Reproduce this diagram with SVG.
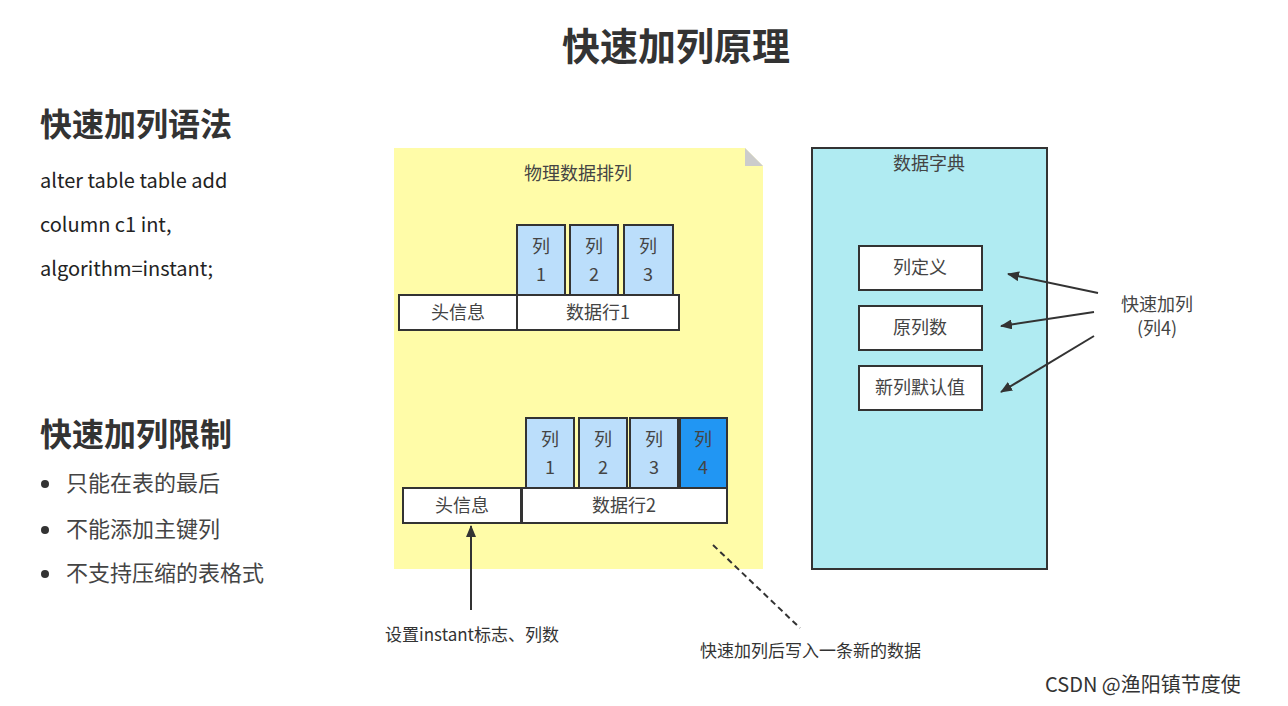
<svg xmlns="http://www.w3.org/2000/svg" width="1288" height="706" viewBox="0 0 1288 706">
<style>
text{font-family:"Noto Sans CJK SC","Noto Sans",sans-serif;fill:#333}
.b{stroke:#333;stroke-width:2}
.c{fill:#bbdefb}
.t{font-size:18px;text-anchor:middle;fill:#444}
.l{font-size:20px;fill:#222}
.r{font-size:22px;fill:#444}
</style>
<defs><marker id="a" markerWidth="12" markerHeight="10" refX="11" refY="5" orient="auto" markerUnits="userSpaceOnUse"><path d="M0,0 L12,5 L0,10 Z" fill="#333"/></marker></defs>
<rect width="1288" height="706" fill="#fff"/>
<text x="676" y="60" font-size="38" font-weight="bold" text-anchor="middle" fill="#333">快速加列原理</text>
<text x="40" y="136" font-size="32" font-weight="bold">快速加列语法</text>
<text x="40" y="188" class="l">alter table table add</text>
<text x="40" y="232" class="l">column c1 int,</text>
<text x="40" y="276" class="l">algorithm=instant;</text>
<text x="40" y="446" font-size="32" font-weight="bold">快速加列限制</text>
<g fill="#333"><circle cx="45" cy="484" r="4"/><circle cx="45" cy="530" r="4"/><circle cx="45" cy="574" r="4"/></g>
<text x="66" y="491" class="r">只能在表的最后</text>
<text x="66" y="537" class="r">不能添加主键列</text>
<text x="66" y="581" class="r">不支持压缩的表格式</text>
<g id="note"><path d="M394,148 H745 L763,166 V569 H394 Z" fill="#fffca8"/><path d="M745,148 L763,166 H745 Z" fill="#ccc"/>
<text x="578" y="180" class="t">物理数据排列</text></g>
<g id="row1">
<rect x="517" y="225" width="48" height="70" class="b c"/><rect x="570" y="225" width="48" height="70" class="b c"/><rect x="624" y="225" width="49" height="70" class="b c"/>
<text x="541" y="253" class="t">列</text><text x="541" y="281" class="t">1</text>
<text x="594" y="253" class="t">列</text><text x="594" y="281" class="t">2</text>
<text x="648" y="253" class="t">列</text><text x="648" y="281" class="t">3</text>
<rect x="399" y="295" width="118" height="35" class="b" fill="#fff"/><rect x="517" y="295" width="162" height="35" class="b" fill="#fff"/>
<text x="458" y="319" class="t">头信息</text><text x="598" y="319" class="t">数据行1</text></g>
<g id="row2">
<rect x="526" y="418" width="48" height="70" class="b c"/><rect x="579" y="418" width="48" height="70" class="b c"/><rect x="630" y="418" width="48" height="70" class="b c"/><rect x="680" y="418" width="47" height="70" class="b" fill="#2196f3"/>
<text x="550" y="446" class="t">列</text><text x="550" y="474" class="t">1</text>
<text x="603" y="446" class="t">列</text><text x="603" y="474" class="t">2</text>
<text x="654" y="446" class="t">列</text><text x="654" y="474" class="t">3</text>
<text x="703" y="446" class="t">列</text><text x="703" y="474" class="t">4</text>
<rect x="403" y="488" width="118" height="35" class="b" fill="#fff"/><rect x="522" y="488" width="205" height="35" class="b" fill="#fff"/>
<text x="462" y="512" class="t">头信息</text><text x="624" y="512" class="t">数据行2</text></g>
<g id="dict"><rect x="812" y="148" width="235" height="421" fill="#b0ebf2" class="b"/>
<text x="929" y="170" class="t">数据字典</text>
<rect x="859" y="246" width="123" height="44" class="b" fill="#fff"/><text x="920" y="274" class="t">列定义</text>
<rect x="859" y="306" width="123" height="44" class="b" fill="#fff"/><text x="920" y="334" class="t">原列数</text>
<rect x="859" y="366" width="123" height="44" class="b" fill="#fff"/><text x="920" y="394" class="t">新列默认值</text></g>
<text x="1157" y="311" class="t">快速加列</text><text x="1157" y="335" class="t">(列4)</text>
<text x="385" y="641" font-size="17" fill="#333">设置instant标志、列数</text>
<text x="700" y="657" font-size="17" fill="#333">快速加列后写入一条新的数据</text>
<g id="connectors" stroke="#333" stroke-width="2" fill="none">
<line x1="1098" y1="293" x2="1008" y2="274" marker-end="url(#a)"/>
<line x1="1094" y1="312" x2="1001" y2="326" marker-end="url(#a)"/>
<line x1="1094" y1="336" x2="1001" y2="392" marker-end="url(#a)"/>
<line x1="471" y1="610" x2="471" y2="526" marker-end="url(#a)"/>
<line x1="713" y1="545" x2="800" y2="628" stroke-dasharray="6,4"/>
</g>
<text x="1045" y="692" font-size="20" fill="#aaa">CSDN @渔阳镇节度使</text>
</svg>
